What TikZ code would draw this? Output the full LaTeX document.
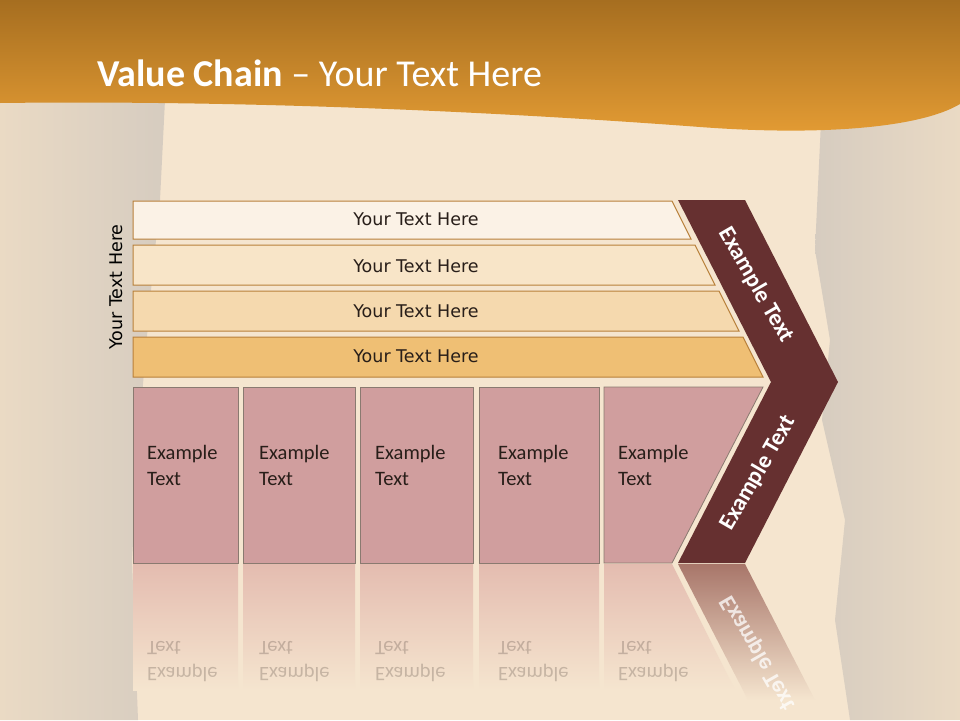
\documentclass[tikz,border=0pt]{standalone}
\usepackage{fontspec}
\setmainfont{Carlito}
\newfontfamily\verdanafont{DejaVu Sans}
\usetikzlibrary{positioning}

\definecolor{bgmid}{RGB}{245,229,207}
\definecolor{bgside}{RGB}{234,218,196}
\definecolor{bgshade}{RGB}{214,204,192}
\definecolor{hdtop}{RGB}{166,110,32}
\definecolor{hdbot}{RGB}{228,156,52}
\definecolor{barA}{RGB}{251,242,230}
\definecolor{barB}{RGB}{248,229,200}
\definecolor{barC}{RGB}{245,217,174}
\definecolor{barD}{RGB}{239,191,116}
\definecolor{barline}{RGB}{184,128,58}
\definecolor{cellfill}{RGB}{208,158,158}
\definecolor{cellline}{RGB}{138,122,112}
\definecolor{chevfill}{RGB}{102,48,48}
\definecolor{reflpink}{RGB}{228,188,176}
\definecolor{reflchev}{RGB}{168,118,106}
\definecolor{txtdark}{RGB}{40,30,25}

\begin{document}
\begin{tikzpicture}[
  x=1pt, y=-1pt,
  bar/.style={draw=barline, line width=1pt},
  cell/.style={draw=cellline, fill=cellfill, line width=0.8pt},
  chev/.style={fill=chevfill},
  refl/.style={top color=reflpink, bottom color=bgmid},
  bartxt/.style={font=\verdanafont\fontsize{17.5}{20}\selectfont, text=txtdark},
  celltxt/.style={anchor=base west, align=left, inner sep=0pt,
                  font=\fontsize{20.5}{26}\selectfont, text=txtdark},
  chevtxt/.style={font=\bfseries\fontsize{23.5}{26}\selectfont, text=white},
  mirtxt/.style={celltxt, text=txtdark, opacity=0.22}
]
\useasboundingbox (0,0) rectangle (960,720);

% background wood
\fill[bgmid] (0,0) rectangle (960,720);
\shade[left color=bgside, right color=bgshade]
  (0,100) -- (165,100) -- (160,200) -- (150,300) -- (140,420) -- (132,560) -- (138,720) -- (0,720) -- cycle;
\shade[left color=bgshade, right color=bgside]
  (960,100) -- (822,100) -- (815,250) -- (830,340) -- (822,420) -- (845,520) -- (835,620) -- (850,720) -- (960,720) -- cycle;

% header band
\shade[top color=hdtop, bottom color=hdbot]
  (0,0) -- (960,0) -- (960,104) .. controls (920,128) and (820,136) .. (700,127)
  .. controls (500,112) and (250,100) .. (0,103) -- cycle;
\node[anchor=base west, inner sep=0pt, text=white, font=\fontsize{38}{42}\selectfont]
  (title) at (97,86) {\textbf{Value Chain} -- Your Text Here};

% primary activities (bars)
\draw[bar, fill=barA] (133,201) -- (672,201) -- (691,239) -- (133,239) -- cycle;
\draw[bar, fill=barB] (133,245) -- (695,245) -- (715,285) -- (133,285) -- cycle;
\draw[bar, fill=barC] (133,291) -- (719,291) -- (739,331) -- (133,331) -- cycle;
\draw[bar, fill=barD] (133,337) -- (743,337) -- (763,377) -- (133,377) -- cycle;
\node[bartxt] (b1) at (416,219) {Your Text Here};
\node[bartxt] (b2) at (416,266) {Your Text Here};
\node[bartxt] (b3) at (416,311) {Your Text Here};
\node[bartxt] (b4) at (416,356) {Your Text Here};
\node[bartxt, text=black, rotate=90] (side) at (116,287) {Your Text Here};

% support activities (cells)
\draw[cell] (133,387) rectangle (238,563);
\draw[cell] (243,387) rectangle (355,563);
\draw[cell] (360,387) rectangle (473,563);
\draw[cell] (479,387) rectangle (599,563);
\draw[cell] (604,387) -- (763,387) -- (672,563) -- (604,563) -- cycle;
\node[celltxt] (c1) at (147,485) {Example\\Text};
\node[celltxt] (c2) at (259,485) {Example\\Text};
\node[celltxt] (c3) at (375,485) {Example\\Text};
\node[celltxt] (c4) at (498,485) {Example\\Text};
\node[celltxt] (c5) at (618,485) {Example\\Text};

% chevron
\fill[chev] (678,200) -- (745,200) -- (838,382) -- (745,563) -- (678,563) -- (771,382) -- cycle;
\node[chevtxt, rotate=-60] (m1) at (756,285) {Example Text};
\node[chevtxt, rotate=60] (m2) at (758,473) {Example Text};

% reflection
\shade[refl] (133,564) rectangle (238,690);
\shade[refl] (243,564) rectangle (355,690);
\shade[refl] (360,564) rectangle (473,690);
\shade[refl] (479,564) rectangle (599,690);
\shade[refl] (604,564) -- (672,564) -- (735,690) -- (604,690) -- cycle;
\shade[top color=reflchev, bottom color=bgmid] (678,564) -- (745,564) -- (815,700) -- (748,700) -- cycle;
\begin{scope}[shift={(0,1126)}, yscale=-1, transform shape]
  \node[mirtxt] (r1) at (147,485) {Example\\Text};
  \node[mirtxt] (r2) at (259,485) {Example\\Text};
  \node[mirtxt] (r3) at (375,485) {Example\\Text};
  \node[mirtxt] (r4) at (498,485) {Example\\Text};
  \node[mirtxt] (r5) at (618,485) {Example\\Text};
  \node[chevtxt, rotate=60, opacity=0.75] (rm) at (758,473) {Example Text};
\end{scope}
\end{tikzpicture}
\end{document}
